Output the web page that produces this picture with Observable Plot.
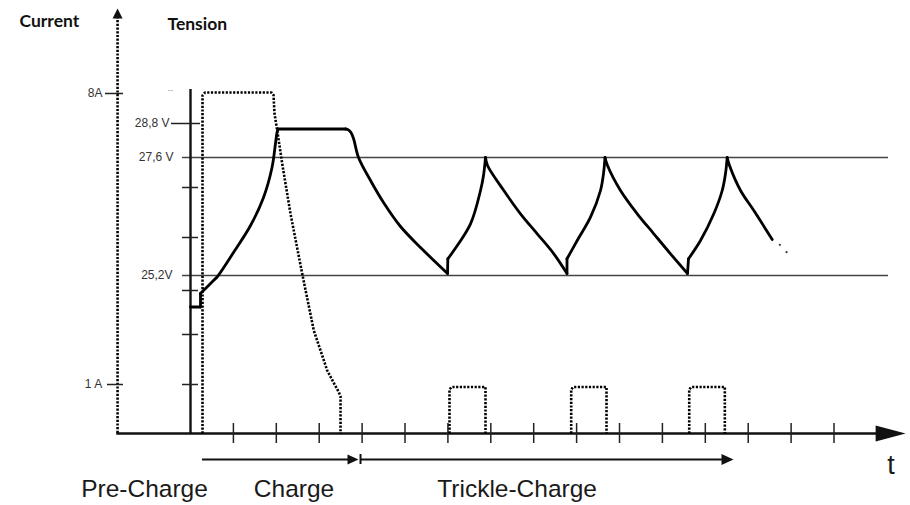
<!DOCTYPE html>
<html><head><meta charset="utf-8">
<script src="https://cdn.jsdelivr.net/npm/d3@7"></script>
<script src="https://cdn.jsdelivr.net/npm/@observablehq/plot@0.6"></script>
<style>body{margin:0;background:#fff;} #chart svg{display:block;}</style>
</head><body><div id="chart"></div>
<script>
// x: time, in units of one tick of the t axis (0 = tension axis)
// y: schematic level above the time axis (diagram units)
const timeTicks = [1, 2, 3, 4, 5, 6, 7, 8, 9, 10, 11, 12, 13, 14, 15];

const currentTickLabels = ["8A", "1 A"];
const currentTickLevels = [340, 49];
const tensionLabels = ["28,8 V", "27,6 V", "25,2V"];
const tensionLabelLevels = [310, 276, 158];
const refLineLevels = [276, 158];          // 27,6 V and 25,2 V lines
const tensionTickLevels = [246, 196, 143, 99, 49];

const phaseLabels = ["Pre-Charge", "Charge", "Trickle-Charge"];
const phaseLabelStarts = [-2.548, 1.476, 5.751];

// Tension (voltage) curve, piece by piece: [t, level]
const vPre   = [[0, 126.5], [0.233, 126.5]];
const vJump0 = [[0.233, 126.5], [0.233, 140]];
const vRise  = [[0.233, 140], [0.35, 145], [0.536, 153], [0.629, 157], [1.002, 181], [1.399, 208],
                [1.702, 236], [1.9, 266], [1.981, 290], [2.016, 301], [2.04, 304.5]];
const vHold  = [[2.04, 304.5], [3.613, 304.5]];
const vFall0 = [[3.613, 304.5], [3.68, 303.6], [3.74, 301], [3.8, 295], [3.916, 276], [4.196, 253],
                [4.499, 231], [4.895, 207], [5.361, 186], [5.991, 160]];
const vJump1 = [[5.991, 160], [5.998, 174.7]];
const vRise1 = [[5.998, 174.7], [6.138, 183], [6.527, 209.7], [6.76, 243], [6.83, 258], [6.876, 276]];
const vFall1 = [[6.876, 276], [6.923, 268], [7.303, 243], [7.692, 219.7], [8.082, 199.7], [8.469, 179.7], [8.776, 160]];
const vJump2 = [[8.776, 160], [8.776, 174.7]];
const vRise2 = [[8.776, 174.7], [9.014, 193], [9.324, 216.3], [9.557, 243], [9.627, 260], [9.662, 276]];
const vFall2 = [[9.662, 276], [9.72, 268], [10.023, 243], [10.413, 219.7], [10.8, 199.7], [11.189, 179.7], [11.585, 160]];
const vJump3 = [[11.585, 160], [11.608, 174.7]];
const vRise3 = [[11.608, 174.7], [11.888, 193], [12.198, 219.7], [12.394, 243], [12.471, 260], [12.51, 276]];
const vFall3 = [[12.51, 276], [12.564, 268], [12.821, 243], [13.131, 223], [13.56, 194]];
const vTrailDots = [[13.737, 188.7], [13.893, 181.3]];

// Current curve (dotted): pre-charge / charge, then trickle pulses
const iCharge = [[0.28, 0], [0.28, 338], [0.338, 341], [1.888, 341], [1.935, 338.5], [1.958, 320],
                 [2.021, 303], [2.138, 269.7], [2.331, 219.7], [2.604, 159.7], [2.874, 103],
                 [3.187, 63], [3.333, 51], [3.457, 41.3], [3.497, 37], [3.497, 0]];
const iPulse1 = [[6.037, 0], [6.037, 44], [6.084, 46.5], [6.876, 46.5], [6.876, 0]];
const iPulse2 = [[8.874, 0], [8.874, 44], [8.921, 46.5], [9.697, 46.5], [9.697, 0]];
const iPulse3 = [[11.625, 0], [11.625, 44], [11.671, 46.5], [12.455, 46.5], [12.455, 0]];

const toRows = (pieces) => pieces.flatMap((p, k) => p.map(([t, v]) => ({t, v, seg: k})));
const voltageRows = toRows([vPre, vJump0, vRise, vHold, vFall0, vJump1, vRise1, vFall1, vJump2, vRise2, vFall2, vJump3, vRise3, vFall3]);
const currentRows = toRows([iCharge, iPulse1, iPulse2, iPulse3]);

// filled arrowhead shape for Plot.vector
const head = {draw(ctx, l, r) { ctx.moveTo(0, -l); ctx.lineTo(r, 0); ctx.lineTo(-r, 0); ctx.closePath(); }};
const arrowHeads = [
  {t: 16.67, v: 0, rot: 90, len: 30, r: 8},     // t axis
  {t: -1.70, v: 425, rot: 0, len: 10, r: 5},    // current axis
  {t: 3.916, v: -26, rot: 90, len: 11, r: 5},   // charge arrow
  {t: 12.657, v: -26, rot: 90, len: 12, r: 5.5} // trickle arrow
];

const sans = "Liberation Sans, Arial, sans-serif";
const dotted = {stroke: "#000", strokeWidth: 2.6, strokeDasharray: "2.2,1.5", strokeLinecap: "butt"};

const chart = Plot.plot({
  width: 910, height: 505,
  marginTop: 0, marginRight: 0, marginBottom: 0, marginLeft: 0,
  x: {domain: [-4.429, 16.783], range: [0, 910], axis: null},
  y: {domain: [-72, 433], range: [505, 0], axis: null},
  style: {background: "#fff", overflow: "visible"},
  marks: [
    // reference lines 27,6 V and 25,2 V
    Plot.ruleY(refLineLevels, {y: d => d, x1: -0.186, x2: 16.27, stroke: "#444", strokeWidth: 1.6}),
    // tension axis
    Plot.ruleX([0], {x: d => d, y1: 0, y2: 344, stroke: "#111", strokeWidth: 2.4}),
    Plot.ruleY(tensionTickLevels, {y: d => d, x1: -0.186, x2: 0.186, stroke: "#222", strokeWidth: 1.5}),
    Plot.ruleY([tensionLabelLevels[0]], {y: d => d, x1: -0.443, x2: 0.233, stroke: "#222", strokeWidth: 1.5}),
    // current axis (dotted)
    Plot.ruleX([-1.70], {x: d => d, y1: 0, y2: 416, ...dotted}),
    Plot.ruleY(currentTickLevels, {y: d => d, x1: (d, i) => i === 0 ? -1.981 : -1.935, x2: -1.562, stroke: "#222", strokeWidth: 1.5}),
    // time axis
    Plot.ruleY([0], {y: d => d, x1: -1.72, x2: 16.0, stroke: "#111", strokeWidth: 2.6}),
    Plot.ruleX(timeTicks, {x: d => d, y1: -10, y2: 10, stroke: "#222", strokeWidth: 1.5}),
    // current curve
    Plot.line(currentRows, {x: "t", y: "v", z: "seg", curve: "linear", ...dotted, strokeLinejoin: "round"}),
    // tension curve
    Plot.line(voltageRows, {x: "t", y: "v", z: "seg", curve: "catmull-rom", stroke: "#000", strokeWidth: 2.8, strokeLinejoin: "round"}),
    Plot.dot(vTrailDots, {x: d => d[0], y: d => d[1], r: 1.1, fill: "#333", stroke: "none"}),
    // phase arrows
    Plot.ruleY([-26], {y: d => d, x1: 0.28, x2: 3.8, stroke: "#111", strokeWidth: 2}),
    Plot.ruleY([-26], {y: d => d, x1: 3.963, x2: 12.45, stroke: "#111", strokeWidth: 2}),
    Plot.ruleX([3.963], {x: d => d, y1: -31, y2: -21, stroke: "#111", strokeWidth: 2}),
    ...arrowHeads.map(a => Plot.vector([a], {x: "t", y: "v", rotate: a.rot, length: a.len, r: a.r, shape: head, anchor: "end", fill: "#111", stroke: "none"})),
    // axis labels
    Plot.text(currentTickLabels, {x: (d, i) => i === 0 ? -2.051 : -2.058, y: (d, i) => currentTickLevels[i], text: d => d,
      textAnchor: "end", lineAnchor: "middle", fontSize: 12, fill: "#333", fontFamily: sans}),
    Plot.text(tensionLabels, {x: (d, i) => [-0.49, -0.396, -0.42][i], y: (d, i) => tensionLabelLevels[i], text: d => d,
      textAnchor: "end", lineAnchor: "middle", fontSize: 12, fill: "#333", fontFamily: sans}),
    Plot.text(["--"], {x: -0.466, y: 343, text: d => d, fontSize: 9, fill: "#aaa", fontFamily: sans}),
    Plot.text(["Current"], {x: -3.986, y: 407, text: d => d, textAnchor: "start", lineAnchor: "bottom",
      fontSize: 17.5, fontWeight: "bold", fill: "#111", fontFamily: "Lato, sans-serif"}),
    Plot.text(["Tension"], {x: -0.536, y: 404, text: d => d, textAnchor: "start", lineAnchor: "bottom",
      fontSize: 17.5, fontWeight: "bold", fill: "#111", fontFamily: "Lato, sans-serif"}),
    // phase labels
    Plot.text(phaseLabels, {x: (d, i) => phaseLabelStarts[i], y: -63, text: d => d, textAnchor: "start", lineAnchor: "bottom",
      fontSize: 24.5, fill: "#1a1a1a", fontFamily: sans}),
    Plot.text(["t"], {x: 16.24, y: -40, text: d => d, textAnchor: "start", lineAnchor: "bottom",
      fontSize: 27, fill: "#1a1a1a", fontFamily: sans})
  ]
});
document.getElementById("chart").append(chart);
</script></body></html>
